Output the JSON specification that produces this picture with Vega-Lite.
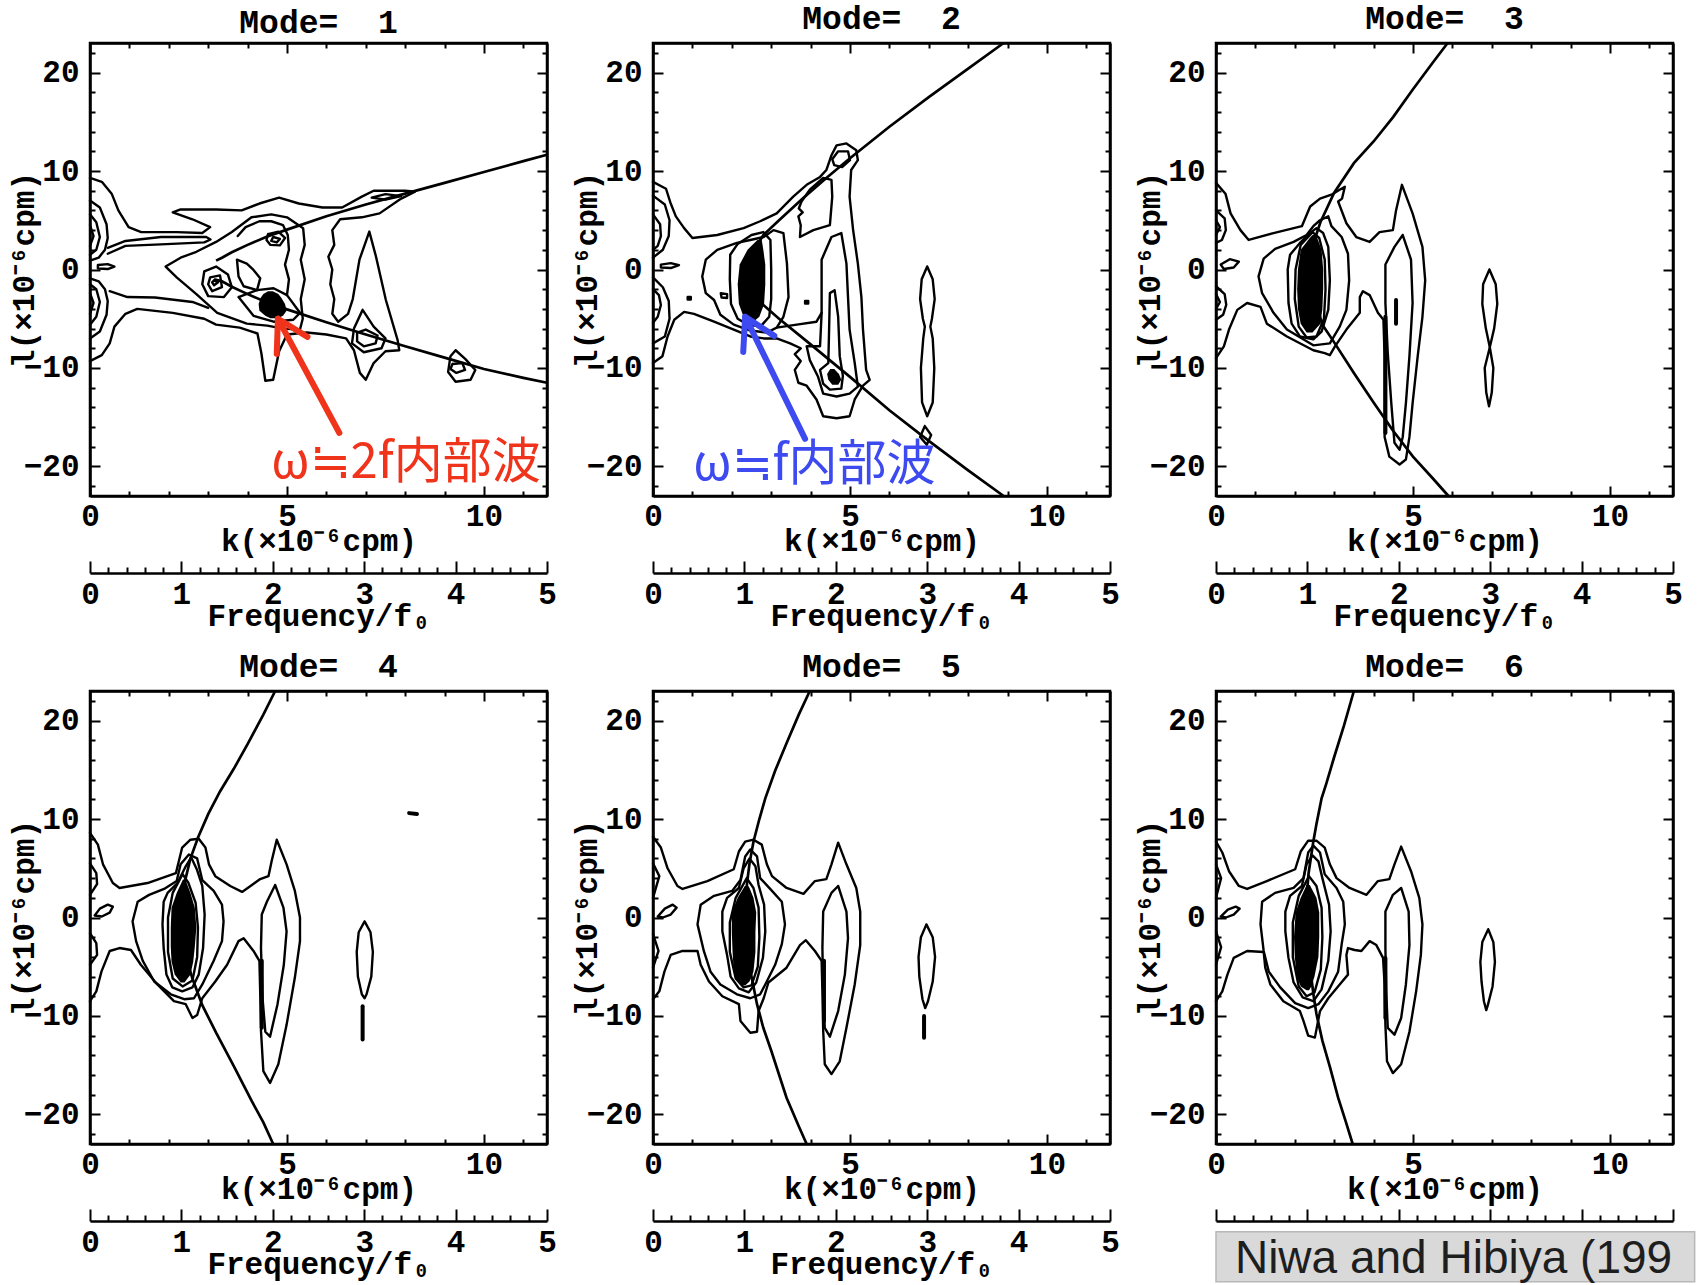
{
"$schema":"https://vega.github.io/schema/vega-lite/v6.json",
"padding":{"left":6,"top":1,"right":0,"bottom":0},
"background":"white",
"config":{
 "view":{"stroke":"black","strokeWidth":2.5},
 "axis":{"grid":false,"domainColor":"black","domainWidth":2.5,"tickColor":"black","tickWidth":2,"labelFont":"Liberation Mono","labelFontWeight":"bold","labelFontSize":31,"labelColor":"black","titleFont":"Liberation Mono","titleFontWeight":"bold","titleFontSize":31,"titleColor":"black","labelFlush":false,"labelOverlap":false},
 "title":{"font":"Liberation Mono","fontWeight":"bold","fontSize":33,"color":"black","baseline":"alphabetic","offset":2,"frame":"group"}
},
"datasets":{
"c1":[
{"g":"e","k":0,"l":9.3},{"g":"e","k":0.3,"l":8.9},{"g":"e","k":0.55,"l":7.7},{"g":"e","k":0.72,"l":6.0},{"g":"e","k":0.98,"l":4.3},{"g":"e","k":1.3,"l":3.8},{"g":"e","k":2.2,"l":3.8},{"g":"e","k":2.85,"l":3.7},{"g":"e","k":3.05,"l":4.3},{"g":"e","k":2.6,"l":5.1},{"g":"e","k":2.1,"l":5.8},{"g":"e","k":2.3,"l":6.1},{"g":"e","k":3.2,"l":6.1},{"g":"e","k":3.85,"l":6.0},{"g":"e","k":4.3,"l":6.7},{"g":"e","k":4.8,"l":7.3},{"g":"e","k":5.3,"l":6.7},{"g":"e","k":5.9,"l":6.3},{"g":"e","k":6.4,"l":6.3},{"g":"e","k":6.9,"l":7.4},{"g":"e","k":7.2,"l":8.0},{"g":"e","k":8.0,"l":8.0},{"g":"e","k":8.25,"l":7.9},{"g":"e","k":7.9,"l":7.2},{"g":"e","k":7.35,"l":5.7},{"g":"e","k":6.9,"l":5.3},{"g":"e","k":6.35,"l":5.1},{"g":"e","k":6.15,"l":4.0},{"g":"e","k":6.2,"l":2.5},{"g":"e","k":6.05,"l":1.3},{"g":"e","k":6.15,"l":0},{"g":"e","k":6.1,"l":-1.5},{"g":"e","k":6.2,"l":-3.0},{"g":"e","k":6.15,"l":-4.5},{"g":"e","k":6.3,"l":-5.3},{"g":"e","k":6.55,"l":-4.5},{"g":"e","k":6.67,"l":-3.0},{"g":"e","k":6.84,"l":1.0},{"g":"e","k":7.09,"l":3.85},{"g":"e","k":7.26,"l":1.3},{"g":"e","k":7.51,"l":-3.1},{"g":"e","k":7.81,"l":-7.2},{"g":"e","k":7.85,"l":-8.2},{"g":"e","k":7.5,"l":-8.3},{"g":"e","k":7.2,"l":-9.5},{"g":"e","k":7.0,"l":-11.2},{"g":"e","k":6.85,"l":-10.5},{"g":"e","k":6.7,"l":-8.2},{"g":"e","k":6.5,"l":-7.0},{"g":"e","k":6.0,"l":-6.6},{"g":"e","k":5.5,"l":-6.4},{"g":"e","k":5.0,"l":-6.6},{"g":"e","k":4.8,"l":-8.3},{"g":"e","k":4.65,"l":-11.2},{"g":"e","k":4.45,"l":-11.3},{"g":"e","k":4.35,"l":-8.5},{"g":"e","k":4.25,"l":-6.5},{"g":"e","k":3.8,"l":-5.9},{"g":"e","k":3.2,"l":-5.6},{"g":"e","k":2.9,"l":-5.0},{"g":"e","k":2.1,"l":-4.4},{"g":"e","k":1.2,"l":-4.0},{"g":"e","k":0.9,"l":-4.5},{"g":"e","k":0.62,"l":-5.8},{"g":"e","k":0.5,"l":-7.5},{"g":"e","k":0.3,"l":-8.7},{"g":"e","k":0,"l":-9.3},
{"g":"u1","k":0,"l":7.0},{"g":"u1","k":0.25,"l":6.3},{"g":"u1","k":0.42,"l":4.6},{"g":"u1","k":0.45,"l":3.2},{"g":"u1","k":0.38,"l":2.0},{"g":"u1","k":0.22,"l":1.2},{"g":"u1","k":0,"l":0.9},
{"g":"u2","k":0,"l":5.6},{"g":"u2","k":0.16,"l":4.8},{"g":"u2","k":0.25,"l":3.3},{"g":"u2","k":0.16,"l":2.0},{"g":"u2","k":0,"l":1.5},
{"g":"u3","k":0,"l":4.5},{"g":"u3","k":0.09,"l":3.4},{"g":"u3","k":0,"l":2.4},
{"g":"d1","k":0,"l":-0.9},{"g":"d1","k":0.22,"l":-1.2},{"g":"d1","k":0.38,"l":-2.0},{"g":"d1","k":0.45,"l":-3.2},{"g":"d1","k":0.42,"l":-4.6},{"g":"d1","k":0.25,"l":-6.3},{"g":"d1","k":0,"l":-7.0},
{"g":"d2","k":0,"l":-1.5},{"g":"d2","k":0.16,"l":-2.0},{"g":"d2","k":0.25,"l":-3.3},{"g":"d2","k":0.16,"l":-4.8},{"g":"d2","k":0,"l":-5.6},
{"g":"d3","k":0,"l":-2.4},{"g":"d3","k":0.09,"l":-3.4},{"g":"d3","k":0,"l":-4.5},
{"g":"m","k":0.2,"l":0.45},{"g":"m","k":0.45,"l":0.55},{"g":"m","k":0.62,"l":0.3},{"g":"m","k":0.45,"l":0.05},{"g":"m","k":0.2,"l":0.1},{"g":"m","k":0.2,"l":0.45},
{"g":"f","k":0.45,"l":2.2},{"g":"f","k":0.9,"l":2.9},{"g":"f","k":1.8,"l":3.3},{"g":"f","k":2.95,"l":3.3},{"g":"f","k":3.06,"l":3.05},{"g":"f","k":2.9,"l":2.75},{"g":"f","k":1.8,"l":2.55},{"g":"f","k":0.9,"l":2.4},{"g":"f","k":0.45,"l":1.6},
{"g":"lo","k":0.5,"l":-2.2},{"g":"lo","k":0.95,"l":-2.8},{"g":"lo","k":1.65,"l":-2.85},{"g":"lo","k":2.6,"l":-3.3},{"g":"lo","k":3.0,"l":-3.9},
{"g":"c2","k":1.92,"l":0.3},{"g":"c2","k":2.3,"l":1.2},{"g":"c2","k":2.7,"l":1.8},{"g":"c2","k":3.2,"l":2.8},{"g":"c2","k":3.6,"l":3.8},{"g":"c2","k":4.1,"l":5.3},{"g":"c2","k":4.6,"l":5.6},{"g":"c2","k":5.0,"l":5.3},{"g":"c2","k":5.41,"l":4.2},{"g":"c2","k":5.45,"l":2.5},{"g":"c2","k":5.35,"l":1.0},{"g":"c2","k":5.45,"l":-1.0},{"g":"c2","k":5.35,"l":-3.0},{"g":"c2","k":5.4,"l":-5.0},{"g":"c2","k":5.33,"l":-6.1},{"g":"c2","k":4.9,"l":-6.0},{"g":"c2","k":4.5,"l":-5.7},{"g":"c2","k":3.98,"l":-5.5},{"g":"c2","k":3.23,"l":-4.4},{"g":"c2","k":2.7,"l":-2.5},{"g":"c2","k":2.2,"l":-0.8},{"g":"c2","k":1.92,"l":0.3},
{"g":"c3","k":2.9,"l":-0.2},{"g":"c3","k":3.2,"l":0.3},{"g":"c3","k":3.5,"l":-0.5},{"g":"c3","k":3.6,"l":-1.8},{"g":"c3","k":3.4,"l":-2.8},{"g":"c3","k":3.0,"l":-2.7},{"g":"c3","k":2.85,"l":-1.5},{"g":"c3","k":2.9,"l":-0.2},
{"g":"c3b","k":3.05,"l":-0.8},{"g":"c3b","k":3.3,"l":-0.6},{"g":"c3b","k":3.35,"l":-1.8},{"g":"c3b","k":3.1,"l":-2.2},{"g":"c3b","k":3.0,"l":-1.5},{"g":"c3b","k":3.05,"l":-0.8},
{"g":"c3c","k":3.15,"l":-1.1},{"g":"c3c","k":3.25,"l":-1.3},{"g":"c3c","k":3.15,"l":-1.6},{"g":"c3c","k":3.1,"l":-1.3},{"g":"c3c","k":3.15,"l":-1.1},
{"g":"c4","k":4.52,"l":3.6},{"g":"c4","k":4.78,"l":3.85},{"g":"c4","k":4.95,"l":3.2},{"g":"c4","k":4.82,"l":2.45},{"g":"c4","k":4.58,"l":2.5},{"g":"c4","k":4.48,"l":3.0},{"g":"c4","k":4.52,"l":3.6},
{"g":"c4b","k":4.65,"l":3.3},{"g":"c4b","k":4.82,"l":3.1},{"g":"c4b","k":4.74,"l":2.75},{"g":"c4b","k":4.6,"l":2.9},{"g":"c4b","k":4.65,"l":3.3},
{"g":"c5","k":3.73,"l":1.0},{"g":"c5","k":3.98,"l":0.6},{"g":"c5","k":4.15,"l":-0.05},{"g":"c5","k":4.32,"l":-0.9},{"g":"c5","k":4.24,"l":-2.1},{"g":"c5","k":3.9,"l":-1.7},{"g":"c5","k":3.77,"l":-0.7},{"g":"c5","k":3.73,"l":1.0},
{"g":"c6","k":3.77,"l":-2.8},{"g":"c6","k":4.24,"l":-2.1},{"g":"c6","k":4.66,"l":-1.9},{"g":"c6","k":5.0,"l":-2.6},{"g":"c6","k":5.33,"l":-4.4},{"g":"c6","k":5.16,"l":-5.1},{"g":"c6","k":4.66,"l":-5.3},{"g":"c6","k":4.15,"l":-4.7},{"g":"c6","k":3.77,"l":-2.8},
{"g":"c7","k":5.0,"l":-2.6},{"g":"c7","k":5.05,"l":-1.0},{"g":"c7","k":4.95,"l":0.5},{"g":"c7","k":5.05,"l":2.0},{"g":"c7","k":5.02,"l":3.5},{"g":"c7","k":4.9,"l":4.5},{"g":"c7","k":4.6,"l":4.9},{"g":"c7","k":4.3,"l":4.9},{"g":"c7","k":3.95,"l":4.3},{"g":"c7","k":3.75,"l":3.4},
{"g":"tr2","k":6.92,"l":-4.1},{"g":"tr2","k":7.2,"l":-5.8},{"g":"tr2","k":7.5,"l":-7.0},{"g":"tr2","k":7.4,"l":-8.0},{"g":"tr2","k":6.95,"l":-8.4},{"g":"tr2","k":6.65,"l":-7.5},{"g":"tr2","k":6.7,"l":-6.0},{"g":"tr2","k":6.92,"l":-4.1},
{"g":"tr3","k":6.78,"l":-6.4},{"g":"tr3","k":7.0,"l":-6.1},{"g":"tr3","k":7.3,"l":-6.7},{"g":"tr3","k":7.25,"l":-7.5},{"g":"tr3","k":6.95,"l":-7.8},{"g":"tr3","k":6.78,"l":-7.3},{"g":"tr3","k":6.78,"l":-6.4},
{"g":"tl","k":7.15,"l":7.3},{"g":"tl","k":7.5,"l":7.65},{"g":"tl","k":7.9,"l":7.45},{"g":"tl","k":7.5,"l":7.1},{"g":"tl","k":7.15,"l":7.3},
{"g":"r1","k":9.28,"l":-8.2},{"g":"r1","k":9.53,"l":-9.1},{"g":"r1","k":9.78,"l":-10.2},{"g":"r1","k":9.66,"l":-11.2},{"g":"r1","k":9.28,"l":-11.4},{"g":"r1","k":9.09,"l":-10.4},{"g":"r1","k":9.15,"l":-8.8},{"g":"r1","k":9.28,"l":-8.2},
{"g":"r1b","k":9.2,"l":-9.6},{"g":"r1b","k":9.45,"l":-9.5},{"g":"r1b","k":9.52,"l":-10.2},{"g":"r1b","k":9.3,"l":-10.5},{"g":"r1b","k":9.15,"l":-10.1},{"g":"r1b","k":9.2,"l":-9.6}
],
"b1":[
{"g":"b","l":-2.2,"k1":4.52,"k2":4.64},{"g":"b","l":-2.5,"k1":4.4,"k2":4.78},{"g":"b","l":-2.9,"k1":4.33,"k2":4.86},{"g":"b","l":-3.5,"k1":4.28,"k2":4.95},{"g":"b","l":-4.2,"k1":4.3,"k2":4.99},{"g":"b","l":-4.7,"k1":4.45,"k2":4.9},{"g":"b","l":-4.95,"k1":4.58,"k2":4.76}
],
"d1":[
{"g":"up","k":3.2,"l":0.9},{"g":"up","k":3.35,"l":1.2},{"g":"up","k":3.6,"l":1.75},{"g":"up","k":4,"l":2.5},{"g":"up","k":4.5,"l":3.35},{"g":"up","k":5,"l":4.05},{"g":"up","k":6,"l":5.4},{"g":"up","k":7,"l":6.6},{"g":"up","k":8,"l":7.7},{"g":"up","k":9,"l":8.8},{"g":"up","k":10,"l":9.9},{"g":"up","k":11,"l":11.0},{"g":"up","k":11.6,"l":11.65},
{"g":"lo","k":3.15,"l":-1.0},{"g":"lo","k":3.35,"l":-1.2},{"g":"lo","k":3.6,"l":-1.75},{"g":"lo","k":4,"l":-2.5},{"g":"lo","k":4.5,"l":-3.35},{"g":"lo","k":5,"l":-4.05},{"g":"lo","k":6,"l":-5.35},{"g":"lo","k":7,"l":-6.6},{"g":"lo","k":8,"l":-7.8},{"g":"lo","k":9,"l":-8.95},{"g":"lo","k":10,"l":-10.1},{"g":"lo","k":11,"l":-11.0},{"g":"lo","k":11.6,"l":-11.5}
],
"c2":[
{"g":"e","k":0,"l":8.9},{"g":"e","k":0.33,"l":8.2},{"g":"e","k":0.45,"l":6.7},{"g":"e","k":0.58,"l":5.4},{"g":"e","k":0.79,"l":4.2},{"g":"e","k":1.0,"l":3.2},{"g":"e","k":1.63,"l":3.5},{"g":"e","k":2.3,"l":4.2},{"g":"e","k":2.72,"l":4.9},{"g":"e","k":3.14,"l":5.7},{"g":"e","k":3.56,"l":7.4},{"g":"e","k":3.9,"l":8.6},{"g":"e","k":4.24,"l":9.4},{"g":"e","k":4.4,"l":10.1},{"g":"e","k":4.53,"l":11.6},{"g":"e","k":4.66,"l":12.6},{"g":"e","k":4.91,"l":12.8},{"g":"e","k":5.16,"l":12.1},{"g":"e","k":5.2,"l":11.1},{"g":"e","k":5.03,"l":10.1},{"g":"e","k":4.99,"l":7.4},{"g":"e","k":5.08,"l":4.0},{"g":"e","k":5.2,"l":0.6},{"g":"e","k":5.29,"l":-2.8},{"g":"e","k":5.33,"l":-6.1},{"g":"e","k":5.41,"l":-10.2},{"g":"e","k":5.5,"l":-11.2},{"g":"e","k":5.33,"l":-11.8},{"g":"e","k":5.12,"l":-13.2},{"g":"e","k":4.99,"l":-14.9},{"g":"e","k":4.66,"l":-15.1},{"g":"e","k":4.32,"l":-14.9},{"g":"e","k":4.15,"l":-13.2},{"g":"e","k":3.9,"l":-11.8},{"g":"e","k":3.69,"l":-11.5},{"g":"e","k":3.6,"l":-10.2},{"g":"e","k":3.75,"l":-9.3},{"g":"e","k":3.6,"l":-8.6},{"g":"e","k":3.75,"l":-8.0},{"g":"e","k":3.48,"l":-7.5},{"g":"e","k":3.14,"l":-7.0},{"g":"e","k":2.81,"l":-7.0},{"g":"e","k":2.47,"l":-6.8},{"g":"e","k":2.05,"l":-6.1},{"g":"e","k":1.55,"l":-5.3},{"g":"e","k":1.04,"l":-4.5},{"g":"e","k":0.79,"l":-4.3},{"g":"e","k":0.54,"l":-5.1},{"g":"e","k":0.37,"l":-6.8},{"g":"e","k":0.24,"l":-8.8},{"g":"e","k":0,"l":-9.5},
{"g":"tl","k":4.55,"l":11.2},{"g":"tl","k":4.7,"l":12.0},{"g":"tl","k":4.95,"l":12.0},{"g":"tl","k":5.0,"l":11.1},{"g":"tl","k":4.8,"l":10.4},{"g":"tl","k":4.6,"l":10.6},{"g":"tl","k":4.55,"l":11.2},
{"g":"w","k":3.77,"l":6.9},{"g":"w","k":3.7,"l":6.2},{"g":"w","k":3.8,"l":5.8},{"g":"w","k":3.69,"l":5.4},{"g":"w","k":3.75,"l":4.5},{"g":"w","k":3.73,"l":3.3},{"g":"w","k":4.07,"l":4.0},{"g":"w","k":4.49,"l":4.5},{"g":"w","k":4.55,"l":7.4},{"g":"w","k":4.53,"l":9.1},{"g":"w","k":4.32,"l":9.3},{"g":"w","k":3.98,"l":8.1},{"g":"w","k":3.77,"l":6.9},
{"g":"c","k":1.25,"l":-0.7},{"g":"c","k":1.34,"l":1.0},{"g":"c","k":1.63,"l":2.0},{"g":"c","k":2.13,"l":2.7},{"g":"c","k":2.47,"l":3.0},{"g":"c","k":2.81,"l":3.3},{"g":"c","k":3.06,"l":4.0},{"g":"c","k":3.31,"l":3.7},{"g":"c","k":3.4,"l":0.6},{"g":"c","k":3.44,"l":-2.8},{"g":"c","k":3.31,"l":-4.8},{"g":"c","k":3.14,"l":-5.9},{"g":"c","k":2.89,"l":-6.4},{"g":"c","k":2.47,"l":-6.2},{"g":"c","k":2.05,"l":-5.6},{"g":"c","k":1.71,"l":-4.6},{"g":"c","k":1.55,"l":-3.1},{"g":"c","k":1.34,"l":-2.4},{"g":"c","k":1.25,"l":-0.7},
{"g":"rb","k":1.96,"l":1.5},{"g":"rb","k":2.15,"l":2.6},{"g":"rb","k":2.5,"l":3.5},{"g":"rb","k":2.8,"l":3.8},{"g":"rb","k":2.98,"l":3.0},{"g":"rb","k":3.0,"l":0},{"g":"rb","k":3.0,"l":-3.0},{"g":"rb","k":2.95,"l":-4.8},{"g":"rb","k":2.75,"l":-5.7},{"g":"rb","k":2.45,"l":-5.7},{"g":"rb","k":2.15,"l":-5.0},{"g":"rb","k":1.98,"l":-3.5},{"g":"rb","k":1.95,"l":-1.0},{"g":"rb","k":1.96,"l":1.5},
{"g":"se","k":1.72,"l":-2.4},{"g":"se","k":1.88,"l":-2.5},{"g":"se","k":1.88,"l":-2.9},{"g":"se","k":1.74,"l":-2.85},{"g":"se","k":1.72,"l":-2.4},
{"g":"dt1","k":0.88,"l":-2.8},{"g":"dt1","k":0.96,"l":-2.8},{"g":"dt1","k":0.96,"l":-3.05},{"g":"dt1","k":0.88,"l":-3.05},{"g":"dt1","k":0.88,"l":-2.8},
{"g":"dt2","k":3.86,"l":-3.2},{"g":"dt2","k":3.94,"l":-3.2},{"g":"dt2","k":3.94,"l":-3.45},{"g":"dt2","k":3.86,"l":-3.45},{"g":"dt2","k":3.86,"l":-3.2},
{"g":"hl","k":3.14,"l":-5.9},{"g":"hl","k":3.65,"l":-5.6},{"g":"hl","k":4.15,"l":-5.3},{"g":"hl","k":4.28,"l":-4.4},
{"g":"m","k":4.28,"l":1.0},{"g":"m","k":4.53,"l":3.3},{"g":"m","k":4.78,"l":3.7},{"g":"m","k":4.91,"l":0.6},{"g":"m","k":4.95,"l":-2.8},{"g":"m","k":4.99,"l":-6.1},{"g":"m","k":5.12,"l":-9.5},{"g":"m","k":5.2,"l":-11.9},{"g":"m","k":4.99,"l":-12.6},{"g":"m","k":4.66,"l":-12.9},{"g":"m","k":4.32,"l":-12.6},{"g":"m","k":4.19,"l":-10.9},{"g":"m","k":3.98,"l":-9.2},{"g":"m","k":3.9,"l":-7.8},{"g":"m","k":4.24,"l":-7.8},{"g":"m","k":4.28,"l":-4.4},{"g":"m","k":4.28,"l":-1.1},{"g":"m","k":4.28,"l":1.0},
{"g":"n","k":4.49,"l":-2.4},{"g":"n","k":4.61,"l":-2.1},{"g":"n","k":4.7,"l":-4.8},{"g":"n","k":4.74,"l":-8.8},{"g":"n","k":4.82,"l":-10.8},{"g":"n","k":4.78,"l":-12.1},{"g":"n","k":4.49,"l":-12.2},{"g":"n","k":4.32,"l":-11.6},{"g":"n","k":4.24,"l":-10.2},{"g":"n","k":4.45,"l":-9.5},{"g":"n","k":4.47,"l":-6.1},{"g":"n","k":4.49,"l":-2.4},
{"g":"u1","k":0,"l":7.5},{"g":"u1","k":0.3,"l":6.6},{"g":"u1","k":0.42,"l":5.0},{"g":"u1","k":0.4,"l":3.4},{"g":"u1","k":0.25,"l":2.0},{"g":"u1","k":0,"l":1.2},
{"g":"u2","k":0,"l":5.6},{"g":"u2","k":0.18,"l":4.6},{"g":"u2","k":0.2,"l":3.4},{"g":"u2","k":0.12,"l":2.4},{"g":"u2","k":0,"l":2.0},
{"g":"d1","k":0,"l":-0.8},{"g":"d1","k":0.25,"l":-1.8},{"g":"d1","k":0.4,"l":-3.2},{"g":"d1","k":0.42,"l":-5.0},{"g":"d1","k":0.3,"l":-6.8},{"g":"d1","k":0,"l":-7.5},
{"g":"d2","k":0,"l":-2.0},{"g":"d2","k":0.15,"l":-2.6},{"g":"d2","k":0.2,"l":-3.6},{"g":"d2","k":0.12,"l":-4.8},{"g":"d2","k":0,"l":-5.4},
{"g":"me","k":0.2,"l":0.5},{"g":"me","k":0.45,"l":0.65},{"g":"me","k":0.66,"l":0.45},{"g":"me","k":0.45,"l":0.15},{"g":"me","k":0.2,"l":0.2},{"g":"me","k":0.2,"l":0.5},
{"g":"fr","k":6.96,"l":0.3},{"g":"fr","k":7.1,"l":-1},{"g":"fr","k":7.15,"l":-3},{"g":"fr","k":7.08,"l":-5},{"g":"fr","k":7.04,"l":-5.8},{"g":"fr","k":7.1,"l":-7},{"g":"fr","k":7.14,"l":-10},{"g":"fr","k":7.1,"l":-13.5},{"g":"fr","k":6.96,"l":-14.9},{"g":"fr","k":6.83,"l":-13.5},{"g":"fr","k":6.8,"l":-10},{"g":"fr","k":6.86,"l":-7},{"g":"fr","k":6.9,"l":-5.8},{"g":"fr","k":6.85,"l":-5},{"g":"fr","k":6.78,"l":-3},{"g":"fr","k":6.82,"l":-1},{"g":"fr","k":6.96,"l":0.3},
{"g":"fl","k":6.9,"l":-15.9},{"g":"fl","k":7.06,"l":-16.8},{"g":"fl","k":6.95,"l":-17.8},{"g":"fl","k":6.78,"l":-17.0},{"g":"fl","k":6.9,"l":-15.9}
],
"b2":[
{"g":"b","l":3.0,"k1":2.65,"k2":2.76},{"g":"b","l":2.0,"k1":2.4,"k2":2.8},{"g":"b","l":0.5,"k1":2.2,"k2":2.85},{"g":"b","l":-1.5,"k1":2.15,"k2":2.85},{"g":"b","l":-3.5,"k1":2.18,"k2":2.82},{"g":"b","l":-4.8,"k1":2.3,"k2":2.7},{"g":"b","l":-5.3,"k1":2.45,"k2":2.55},
{"g":"b2","l":-10.1,"k1":4.5,"k2":4.6},{"g":"b2","l":-10.6,"k1":4.42,"k2":4.72},{"g":"b2","l":-11.2,"k1":4.45,"k2":4.78},{"g":"b2","l":-11.7,"k1":4.55,"k2":4.7}
],
"d2":[
{"g":"c","k":8.9,"l":23},{"g":"c","k":8,"l":20.4},{"g":"c","k":7,"l":17.5},{"g":"c","k":6,"l":14.5},{"g":"c","k":5,"l":11.3},{"g":"c","k":4.4,"l":9.3},{"g":"c","k":3.8,"l":7.2},{"g":"c","k":3.2,"l":5.0},{"g":"c","k":2.8,"l":3.5},{"g":"c","k":2.6,"l":2.2},{"g":"c","k":2.45,"l":0},{"g":"c","k":2.6,"l":-2.2},{"g":"c","k":2.8,"l":-3.6},{"g":"c","k":3.2,"l":-5.0},{"g":"c","k":4,"l":-7.6},{"g":"c","k":5,"l":-10.9},{"g":"c","k":6,"l":-14.3},{"g":"c","k":7,"l":-17.4},{"g":"c","k":8,"l":-20.4},{"g":"c","k":8.9,"l":-23}
],
"c3":[
{"g":"e","k":0,"l":8.8},{"g":"e","k":0.24,"l":7.7},{"g":"e","k":0.37,"l":5.7},{"g":"e","k":0.62,"l":4.0},{"g":"e","k":0.83,"l":3.0},{"g":"e","k":1.46,"l":3.7},{"g":"e","k":2.18,"l":4.4},{"g":"e","k":2.39,"l":6.4},{"g":"e","k":2.64,"l":7.2},{"g":"e","k":2.93,"l":7.6},{"g":"e","k":3.14,"l":8.1},{"g":"e","k":3.27,"l":8.4},{"g":"e","k":3.2,"l":7.2},{"g":"e","k":3.1,"l":6.9},{"g":"e","k":3.31,"l":4.7},{"g":"e","k":3.56,"l":3.3},{"g":"e","k":3.9,"l":2.8},{"g":"e","k":4.15,"l":3.8},{"g":"e","k":4.49,"l":4.0},{"g":"e","k":4.57,"l":6.0},{"g":"e","k":4.72,"l":8.6},{"g":"e","k":4.99,"l":5.7},{"g":"e","k":5.24,"l":2.3},{"g":"e","k":5.31,"l":-1.1},{"g":"e","k":5.24,"l":-4.8},{"g":"e","k":5.12,"l":-8.8},{"g":"e","k":4.99,"l":-13.6},{"g":"e","k":4.91,"l":-17.0},{"g":"e","k":4.82,"l":-19.3},{"g":"e","k":4.66,"l":-19.8},{"g":"e","k":4.4,"l":-19.0},{"g":"e","k":4.28,"l":-17.0},{"g":"e","k":4.28,"l":-13.6},{"g":"e","k":4.28,"l":-8.8},{"g":"e","k":4.25,"l":-5.1},{"g":"e","k":4.11,"l":-4.4},{"g":"e","k":3.9,"l":-2.6},{"g":"e","k":3.73,"l":-2.2},{"g":"e","k":3.65,"l":-2.8},{"g":"e","k":3.65,"l":-4.4},{"g":"e","k":3.31,"l":-6.1},{"g":"e","k":3.02,"l":-7.8},{"g":"e","k":2.89,"l":-8.7},{"g":"e","k":2.76,"l":-8.5},{"g":"e","k":2.47,"l":-8.2},{"g":"e","k":1.8,"l":-6.8},{"g":"e","k":1.29,"l":-5.5},{"g":"e","k":1.13,"l":-3.8},{"g":"e","k":0.79,"l":-3.4},{"g":"e","k":0.54,"l":-4.1},{"g":"e","k":0.33,"l":-6.1},{"g":"e","k":0.2,"l":-7.8},{"g":"e","k":0,"l":-9.0},
{"g":"c","k":1.08,"l":-0.7},{"g":"c","k":1.21,"l":1.1},{"g":"c","k":1.5,"l":2.1},{"g":"c","k":1.97,"l":2.8},{"g":"c","k":2.3,"l":3.5},{"g":"c","k":2.47,"l":4.4},{"g":"c","k":2.64,"l":5.0},{"g":"c","k":2.85,"l":5.4},{"g":"c","k":2.93,"l":4.4},{"g":"c","k":3.19,"l":3.3},{"g":"c","k":3.35,"l":1.6},{"g":"c","k":3.38,"l":-1.1},{"g":"c","k":3.31,"l":-4.1},{"g":"c","k":3.14,"l":-5.8},{"g":"c","k":2.89,"l":-7.5},{"g":"c","k":2.47,"l":-7.7},{"g":"c","k":1.8,"l":-6.1},{"g":"c","k":1.46,"l":-4.4},{"g":"c","k":1.17,"l":-2.4},{"g":"c","k":1.08,"l":-0.7},
{"g":"rb","k":1.82,"l":0},{"g":"rb","k":1.88,"l":1.5},{"g":"rb","k":2.13,"l":2.7},{"g":"rb","k":2.39,"l":3.7},{"g":"rb","k":2.55,"l":4.2},{"g":"rb","k":2.72,"l":3.7},{"g":"rb","k":2.85,"l":2.3},{"g":"rb","k":2.89,"l":-1.1},{"g":"rb","k":2.85,"l":-4.1},{"g":"rb","k":2.68,"l":-6.3},{"g":"rb","k":2.47,"l":-7.1},{"g":"rb","k":2.13,"l":-6.8},{"g":"rb","k":1.92,"l":-5.5},{"g":"rb","k":1.84,"l":-3.4},{"g":"rb","k":1.82,"l":0},
{"g":"ra","k":2.45,"l":3.8},{"g":"ra","k":2.62,"l":3.2},{"g":"ra","k":2.76,"l":1},{"g":"ra","k":2.78,"l":-2},{"g":"ra","k":2.74,"l":-5},{"g":"ra","k":2.55,"l":-6.8},{"g":"ra","k":2.3,"l":-6.9},{"g":"ra","k":2.1,"l":-5.8},{"g":"ra","k":2.0,"l":-3},{"g":"ra","k":2.02,"l":0},{"g":"ra","k":2.15,"l":2.5},{"g":"ra","k":2.45,"l":3.8},
{"g":"li","k":4.74,"l":3.5},{"g":"li","k":4.95,"l":1.0},{"g":"li","k":4.99,"l":-3.4},{"g":"li","k":4.91,"l":-8.8},{"g":"li","k":4.82,"l":-13.6},{"g":"li","k":4.74,"l":-17.0},{"g":"li","k":4.66,"l":-18.3},{"g":"li","k":4.53,"l":-17.6},{"g":"li","k":4.45,"l":-13.6},{"g":"li","k":4.36,"l":-8.5},{"g":"li","k":4.3,"l":-3.4},{"g":"li","k":4.3,"l":0.5},{"g":"li","k":4.53,"l":2.3},{"g":"li","k":4.74,"l":3.5},
{"g":"f8a","k":6.94,"l":0},{"g":"f8a","k":7.1,"l":-1.5},{"g":"f8a","k":7.14,"l":-3.5},{"g":"f8a","k":7.06,"l":-6},{"g":"f8a","k":6.95,"l":-7.9},{"g":"f8a","k":6.85,"l":-6},{"g":"f8a","k":6.76,"l":-3.5},{"g":"f8a","k":6.78,"l":-1.5},{"g":"f8a","k":6.94,"l":0},
{"g":"f8b","k":6.95,"l":-7.9},{"g":"f8b","k":7.04,"l":-10},{"g":"f8b","k":7.0,"l":-12.5},{"g":"f8b","k":6.93,"l":-13.9},{"g":"f8b","k":6.86,"l":-12.5},{"g":"f8b","k":6.82,"l":-10},{"g":"f8b","k":6.95,"l":-7.9},
{"g":"me","k":0.12,"l":0.5},{"g":"me","k":0.35,"l":1.05},{"g":"me","k":0.58,"l":0.8},{"g":"me","k":0.45,"l":0.2},{"g":"me","k":0.2,"l":0.05},{"g":"me","k":0.12,"l":0.5},
{"g":"u1","k":0,"l":6.0},{"g":"u1","k":0.22,"l":5.2},{"g":"u1","k":0.25,"l":4.0},{"g":"u1","k":0.15,"l":3.0},{"g":"u1","k":0,"l":2.7},
{"g":"u1b","k":0,"l":5.0},{"g":"u1b","k":0.1,"l":4.3},{"g":"u1b","k":0,"l":3.5},
{"g":"d1","k":0,"l":-1.7},{"g":"d1","k":0.22,"l":-2.5},{"g":"d1","k":0.26,"l":-3.6},{"g":"d1","k":0.18,"l":-4.6},{"g":"d1","k":0,"l":-5.1},
{"g":"d1b","k":0,"l":-2.5},{"g":"d1b","k":0.1,"l":-3.3},{"g":"d1b","k":0,"l":-4.0}
],
"b3":[
{"g":"b","l":3.5,"k1":2.45,"k2":2.52},{"g":"b","l":3.3,"k1":2.4,"k2":2.56},{"g":"b","l":2.0,"k1":2.15,"k2":2.68},{"g":"b","l":0,"k1":2.08,"k2":2.72},{"g":"b","l":-2,"k1":2.06,"k2":2.72},{"g":"b","l":-4,"k1":2.08,"k2":2.7},{"g":"b","l":-5.5,"k1":2.15,"k2":2.65},{"g":"b","l":-6.4,"k1":2.3,"k2":2.45}
],
"d3":[
{"g":"c","k":5.88,"l":23},{"g":"c","k":5.5,"l":21.0},{"g":"c","k":5.0,"l":18.3},{"g":"c","k":4.5,"l":15.5},{"g":"c","k":4.0,"l":13.0},{"g":"c","k":3.5,"l":10.8},{"g":"c","k":3.0,"l":7.8},{"g":"c","k":2.65,"l":4.8},{"g":"c","k":2.5,"l":3.0},{"g":"c","k":2.4,"l":0},{"g":"c","k":2.5,"l":-3.0},{"g":"c","k":2.7,"l":-5.6},{"g":"c","k":3.0,"l":-7.4},{"g":"c","k":3.5,"l":-10.5},{"g":"c","k":4.0,"l":-13.5},{"g":"c","k":4.5,"l":-16.4},{"g":"c","k":5.0,"l":-19.0},{"g":"c","k":5.5,"l":-21.2},{"g":"c","k":5.9,"l":-23}
],
"t3":[
{"g":"a","k":4.3,"l":-4.8},{"g":"a","k":4.3,"l":-16.6},{"g":"b","k":4.57,"l":-3.1},{"g":"b","k":4.57,"l":-5.5}
],
"c4":[
{"g":"e","k":0,"l":8.6},{"g":"e","k":0.2,"l":7.4},{"g":"e","k":0.33,"l":5.4},{"g":"e","k":0.58,"l":3.5},{"g":"e","k":0.75,"l":3.0},{"g":"e","k":1.46,"l":3.5},{"g":"e","k":2.18,"l":4.5},{"g":"e","k":2.34,"l":7.1},{"g":"e","k":2.55,"l":7.9},{"g":"e","k":2.76,"l":8.0},{"g":"e","k":2.93,"l":7.1},{"g":"e","k":3.02,"l":5.4},{"g":"e","k":3.18,"l":4.2},{"g":"e","k":3.56,"l":3.2},{"g":"e","k":3.86,"l":2.6},{"g":"e","k":4.11,"l":3.3},{"g":"e","k":4.32,"l":3.9},{"g":"e","k":4.53,"l":4.2},{"g":"e","k":4.61,"l":5.7},{"g":"e","k":4.74,"l":7.9},{"g":"e","k":4.99,"l":5.4},{"g":"e","k":5.2,"l":2.7},{"g":"e","k":5.33,"l":0},{"g":"e","k":5.33,"l":-2.4},{"g":"e","k":5.2,"l":-6.1},{"g":"e","k":4.99,"l":-10.9},{"g":"e","k":4.78,"l":-14.9},{"g":"e","k":4.57,"l":-16.8},{"g":"e","k":4.4,"l":-15.6},{"g":"e","k":4.34,"l":-11.5},{"g":"e","k":4.32,"l":-7.5},{"g":"e","k":4.3,"l":-4.4},{"g":"e","k":4.15,"l":-3.4},{"g":"e","k":3.9,"l":-2.1},{"g":"e","k":3.77,"l":-2.4},{"g":"e","k":3.48,"l":-4.8},{"g":"e","k":3.18,"l":-6.5},{"g":"e","k":2.85,"l":-8.2},{"g":"e","k":2.72,"l":-9.9},{"g":"e","k":2.6,"l":-10.2},{"g":"e","k":2.43,"l":-8.8},{"g":"e","k":2.13,"l":-8.5},{"g":"e","k":1.71,"l":-6.8},{"g":"e","k":1.29,"l":-4.8},{"g":"e","k":1.04,"l":-3.3},{"g":"e","k":0.75,"l":-3.1},{"g":"e","k":0.5,"l":-3.4},{"g":"e","k":0.29,"l":-5.5},{"g":"e","k":0.16,"l":-7.5},{"g":"e","k":0,"l":-8.5},
{"g":"c","k":1.08,"l":-0.4},{"g":"c","k":1.21,"l":1.6},{"g":"c","k":1.5,"l":2.3},{"g":"c","k":1.88,"l":2.9},{"g":"c","k":2.2,"l":3.7},{"g":"c","k":2.3,"l":5.4},{"g":"c","k":2.51,"l":6.4},{"g":"c","k":2.72,"l":6.0},{"g":"c","k":2.85,"l":3.8},{"g":"c","k":3.14,"l":2.7},{"g":"c","k":3.35,"l":1.3},{"g":"c","k":3.39,"l":-0.4},{"g":"c","k":3.35,"l":-2.4},{"g":"c","k":3.14,"l":-4.4},{"g":"c","k":2.85,"l":-6.8},{"g":"c","k":2.64,"l":-8.2},{"g":"c","k":2.39,"l":-8.3},{"g":"c","k":2.05,"l":-7.8},{"g":"c","k":1.63,"l":-6.5},{"g":"c","k":1.34,"l":-4.4},{"g":"c","k":1.17,"l":-2.4},{"g":"c","k":1.08,"l":-0.4},
{"g":"rb","k":1.87,"l":1.6},{"g":"rb","k":1.97,"l":2.5},{"g":"rb","k":2.22,"l":3.5},{"g":"rb","k":2.43,"l":5.2},{"g":"rb","k":2.57,"l":6.1},{"g":"rb","k":2.71,"l":4.9},{"g":"rb","k":2.85,"l":3.2},{"g":"rb","k":2.91,"l":0.3},{"g":"rb","k":2.87,"l":-3.1},{"g":"rb","k":2.76,"l":-5.8},{"g":"rb","k":2.6,"l":-7.1},{"g":"rb","k":2.34,"l":-7.5},{"g":"rb","k":2.09,"l":-7.1},{"g":"rb","k":1.94,"l":-5.8},{"g":"rb","k":1.87,"l":-3.1},{"g":"rb","k":1.84,"l":-0.7},{"g":"rb","k":1.87,"l":1.6},
{"g":"ra","k":2.35,"l":4.4},{"g":"ra","k":2.5,"l":3.5},{"g":"ra","k":2.68,"l":1.5},{"g":"ra","k":2.74,"l":-1},{"g":"ra","k":2.72,"l":-4},{"g":"ra","k":2.6,"l":-6.4},{"g":"ra","k":2.35,"l":-7.0},{"g":"ra","k":2.1,"l":-6.2},{"g":"ra","k":1.98,"l":-3.5},{"g":"ra","k":1.98,"l":0},{"g":"ra","k":2.1,"l":2.5},{"g":"ra","k":2.35,"l":4.4},
{"g":"li","k":4.7,"l":3.3},{"g":"li","k":4.91,"l":1.0},{"g":"li","k":4.99,"l":-1.4},{"g":"li","k":4.92,"l":-4.8},{"g":"li","k":4.76,"l":-8.8},{"g":"li","k":4.57,"l":-12.1},{"g":"li","k":4.45,"l":-11.6},{"g":"li","k":4.38,"l":-8.2},{"g":"li","k":4.34,"l":-3.1},{"g":"li","k":4.36,"l":0.3},{"g":"li","k":4.49,"l":1.6},{"g":"li","k":4.7,"l":3.3},
{"g":"fr","k":6.97,"l":-0.4},{"g":"fr","k":7.12,"l":-1.5},{"g":"fr","k":7.18,"l":-3.5},{"g":"fr","k":7.14,"l":-6},{"g":"fr","k":7.02,"l":-7.8},{"g":"fr","k":6.97,"l":-8.2},{"g":"fr","k":6.9,"l":-7.8},{"g":"fr","k":6.8,"l":-6},{"g":"fr","k":6.77,"l":-3.5},{"g":"fr","k":6.82,"l":-1.5},{"g":"fr","k":6.97,"l":-0.4},
{"g":"me","k":0.12,"l":0.2},{"g":"me","k":0.25,"l":0.9},{"g":"me","k":0.45,"l":1.3},{"g":"me","k":0.58,"l":1.1},{"g":"me","k":0.5,"l":0.5},{"g":"me","k":0.3,"l":0.1},{"g":"me","k":0.12,"l":0.2},
{"g":"u1","k":0,"l":5.5},{"g":"u1","k":0.16,"l":4.5},{"g":"u1","k":0.18,"l":3.4},{"g":"u1","k":0,"l":2.3},
{"g":"d1","k":0,"l":-1.6},{"g":"d1","k":0.16,"l":-2.6},{"g":"d1","k":0.18,"l":-3.8},{"g":"d1","k":0,"l":-4.8}
],
"b4":[
{"g":"b","l":3.85,"k1":2.36,"k2":2.42},{"g":"b","l":2.5,"k1":2.2,"k2":2.55},{"g":"b","l":1.0,"k1":2.07,"k2":2.66},{"g":"b","l":-1.0,"k1":2.05,"k2":2.7},{"g":"b","l":-3.0,"k1":2.05,"k2":2.66},{"g":"b","l":-4.5,"k1":2.07,"k2":2.62},{"g":"b","l":-5.8,"k1":2.15,"k2":2.55},{"g":"b","l":-6.6,"k1":2.3,"k2":2.4}
],
"d4":[
{"g":"c","k":4.7,"l":23},{"g":"c","k":4.4,"l":20.6},{"g":"c","k":4.0,"l":17.6},{"g":"c","k":3.65,"l":15.1},{"g":"c","k":3.3,"l":12.8},{"g":"c","k":3.0,"l":10.5},{"g":"c","k":2.75,"l":8.2},{"g":"c","k":2.55,"l":6.0},{"g":"c","k":2.4,"l":3.5},{"g":"c","k":2.3,"l":0},{"g":"c","k":2.4,"l":-3.5},{"g":"c","k":2.6,"l":-6.2},{"g":"c","k":2.85,"l":-8.9},{"g":"c","k":3.2,"l":-11.7},{"g":"c","k":3.65,"l":-15.1},{"g":"c","k":4.1,"l":-18.6},{"g":"c","k":4.4,"l":-20.8},{"g":"c","k":4.65,"l":-23}
],
"t4":[
{"g":"a","k":4.36,"l":-4.4},{"g":"a","k":4.36,"l":-11.2},{"g":"b","k":6.92,"l":-9.0},{"g":"b","k":6.92,"l":-12.4},{"g":"c","k":8.1,"l":10.6},{"g":"c","k":8.3,"l":10.5}
],
"c5":[
{"g":"e","k":0,"l":8.2},{"g":"e","k":0.2,"l":7.1},{"g":"e","k":0.37,"l":5.0},{"g":"e","k":0.62,"l":3.2},{"g":"e","k":0.75,"l":2.9},{"g":"e","k":1.38,"l":3.7},{"g":"e","k":2.05,"l":4.9},{"g":"e","k":2.18,"l":6.7},{"g":"e","k":2.34,"l":7.7},{"g":"e","k":2.55,"l":7.9},{"g":"e","k":2.76,"l":7.4},{"g":"e","k":2.89,"l":5.4},{"g":"e","k":3.02,"l":4.2},{"g":"e","k":3.39,"l":3.0},{"g":"e","k":3.82,"l":2.4},{"g":"e","k":4.11,"l":3.7},{"g":"e","k":4.4,"l":3.9},{"g":"e","k":4.53,"l":5.4},{"g":"e","k":4.7,"l":7.6},{"g":"e","k":4.91,"l":5.4},{"g":"e","k":5.16,"l":3.0},{"g":"e","k":5.26,"l":0.6},{"g":"e","k":5.26,"l":-2.8},{"g":"e","k":5.12,"l":-6.8},{"g":"e","k":4.91,"l":-11.2},{"g":"e","k":4.74,"l":-14.6},{"g":"e","k":4.53,"l":-15.9},{"g":"e","k":4.36,"l":-14.9},{"g":"e","k":4.32,"l":-11.5},{"g":"e","k":4.3,"l":-7.5},{"g":"e","k":4.28,"l":-4.4},{"g":"e","k":4.11,"l":-3.4},{"g":"e","k":3.88,"l":-2.3},{"g":"e","k":3.73,"l":-2.8},{"g":"e","k":3.39,"l":-5.1},{"g":"e","k":2.93,"l":-6.6},{"g":"e","k":2.81,"l":-8.2},{"g":"e","k":2.68,"l":-9.5},{"g":"e","k":2.64,"l":-11.6},{"g":"e","k":2.47,"l":-11.7},{"g":"e","k":2.22,"l":-10.5},{"g":"e","k":2.18,"l":-8.8},{"g":"e","k":1.76,"l":-8.0},{"g":"e","k":1.42,"l":-6.5},{"g":"e","k":1.21,"l":-4.8},{"g":"e","k":1.13,"l":-3.4},{"g":"e","k":0.75,"l":-3.4},{"g":"e","k":0.45,"l":-3.8},{"g":"e","k":0.29,"l":-5.5},{"g":"e","k":0.16,"l":-7.5},{"g":"e","k":0,"l":-8.3},
{"g":"c","k":1.13,"l":-0.7},{"g":"c","k":1.21,"l":1.3},{"g":"c","k":1.55,"l":2.2},{"g":"c","k":2.01,"l":2.7},{"g":"c","k":2.22,"l":3.8},{"g":"c","k":2.34,"l":6.2},{"g":"c","k":2.47,"l":6.9},{"g":"c","k":2.64,"l":6.2},{"g":"c","k":2.72,"l":4.0},{"g":"c","k":3.02,"l":2.7},{"g":"c","k":3.27,"l":1.6},{"g":"c","k":3.35,"l":-0.7},{"g":"c","k":3.27,"l":-2.7},{"g":"c","k":3.1,"l":-4.8},{"g":"c","k":2.85,"l":-6.8},{"g":"c","k":2.72,"l":-7.8},{"g":"c","k":2.47,"l":-8.2},{"g":"c","k":2.13,"l":-7.8},{"g":"c","k":1.71,"l":-6.8},{"g":"c","k":1.46,"l":-5.5},{"g":"c","k":1.29,"l":-3.4},{"g":"c","k":1.13,"l":-0.7},
{"g":"rb","k":1.76,"l":0.6},{"g":"rb","k":1.88,"l":2.0},{"g":"rb","k":2.18,"l":3.0},{"g":"rb","k":2.3,"l":5.0},{"g":"rb","k":2.45,"l":6.0},{"g":"rb","k":2.6,"l":5.2},{"g":"rb","k":2.68,"l":3.3},{"g":"rb","k":2.82,"l":1.3},{"g":"rb","k":2.85,"l":-1.4},{"g":"rb","k":2.79,"l":-4.1},{"g":"rb","k":2.62,"l":-6.6},{"g":"rb","k":2.43,"l":-7.6},{"g":"rb","k":2.18,"l":-7.2},{"g":"rb","k":1.97,"l":-6.0},{"g":"rb","k":1.88,"l":-3.8},{"g":"rb","k":1.76,"l":-1.4},{"g":"rb","k":1.76,"l":0.6},
{"g":"ra","k":2.38,"l":4.0},{"g":"ra","k":2.55,"l":3.0},{"g":"ra","k":2.68,"l":1.0},{"g":"ra","k":2.7,"l":-2},{"g":"ra","k":2.66,"l":-5},{"g":"ra","k":2.5,"l":-6.9},{"g":"ra","k":2.3,"l":-7.1},{"g":"ra","k":2.1,"l":-6.2},{"g":"ra","k":1.95,"l":-3.5},{"g":"ra","k":1.95,"l":-0.5},{"g":"ra","k":2.1,"l":2.0},{"g":"ra","k":2.38,"l":4.0},
{"g":"li","k":4.7,"l":3.2},{"g":"li","k":4.91,"l":0.6},{"g":"li","k":4.95,"l":-2.1},{"g":"li","k":4.87,"l":-5.8},{"g":"li","k":4.7,"l":-9.5},{"g":"li","k":4.49,"l":-12.1},{"g":"li","k":4.36,"l":-11.2},{"g":"li","k":4.32,"l":-7.5},{"g":"li","k":4.3,"l":-3.1},{"g":"li","k":4.32,"l":0.6},{"g":"li","k":4.53,"l":2.5},{"g":"li","k":4.7,"l":3.2},
{"g":"fr","k":6.94,"l":-0.7},{"g":"fr","k":7.1,"l":-2},{"g":"fr","k":7.16,"l":-4},{"g":"fr","k":7.1,"l":-6.5},{"g":"fr","k":6.98,"l":-8.5},{"g":"fr","k":6.91,"l":-9.2},{"g":"fr","k":6.84,"l":-8.3},{"g":"fr","k":6.76,"l":-6},{"g":"fr","k":6.74,"l":-4},{"g":"fr","k":6.8,"l":-2},{"g":"fr","k":6.94,"l":-0.7},
{"g":"me","k":0.12,"l":0.1},{"g":"me","k":0.3,"l":0.9},{"g":"me","k":0.5,"l":1.3},{"g":"me","k":0.6,"l":1.0},{"g":"me","k":0.45,"l":0.3},{"g":"me","k":0.25,"l":0.0},{"g":"me","k":0.12,"l":0.1},
{"g":"u1","k":0,"l":5.5},{"g":"u1","k":0.16,"l":4.2},{"g":"u1","k":0,"l":2.0},
{"g":"d1","k":0,"l":-1.7},{"g":"d1","k":0.14,"l":-3.4},{"g":"d1","k":0,"l":-5.1}
],
"b5":[
{"g":"b","l":3.2,"k1":2.33,"k2":2.42},{"g":"b","l":3.0,"k1":2.3,"k2":2.45},{"g":"b","l":2.0,"k1":2.15,"k2":2.55},{"g":"b","l":0.5,"k1":2.0,"k2":2.62},{"g":"b","l":-1.5,"k1":2.0,"k2":2.6},{"g":"b","l":-3.5,"k1":2.02,"k2":2.6},{"g":"b","l":-5.5,"k1":2.05,"k2":2.55},{"g":"b","l":-6.5,"k1":2.15,"k2":2.45},{"g":"b","l":-6.9,"k1":2.28,"k2":2.34}
],
"d5":[
{"g":"c","k":3.98,"l":23},{"g":"c","k":3.7,"l":20.6},{"g":"c","k":3.4,"l":17.8},{"g":"c","k":3.1,"l":14.9},{"g":"c","k":2.85,"l":12.1},{"g":"c","k":2.7,"l":10.0},{"g":"c","k":2.55,"l":7.7},{"g":"c","k":2.45,"l":5.5},{"g":"c","k":2.39,"l":3.6},{"g":"c","k":2.3,"l":0},{"g":"c","k":2.39,"l":-3.6},{"g":"c","k":2.5,"l":-6.0},{"g":"c","k":2.64,"l":-8.8},{"g":"c","k":2.8,"l":-11.2},{"g":"c","k":3.0,"l":-13.5},{"g":"c","k":3.39,"l":-18.3},{"g":"c","k":3.7,"l":-21.2},{"g":"c","k":3.9,"l":-23}
],
"t5":[
{"g":"a","k":4.34,"l":-4.4},{"g":"a","k":4.34,"l":-10.5},{"g":"b","k":6.88,"l":-10.0},{"g":"b","k":6.88,"l":-12.2}
],
"c6":[
{"g":"e","k":0,"l":7.7},{"g":"e","k":0.16,"l":6.6},{"g":"e","k":0.33,"l":4.7},{"g":"e","k":0.58,"l":3.2},{"g":"e","k":0.79,"l":2.9},{"g":"e","k":1.29,"l":3.7},{"g":"e","k":2.01,"l":4.9},{"g":"e","k":2.15,"l":6.7},{"g":"e","k":2.34,"l":7.8},{"g":"e","k":2.55,"l":7.8},{"g":"e","k":2.76,"l":7.1},{"g":"e","k":2.89,"l":5.4},{"g":"e","k":3.06,"l":4.0},{"g":"e","k":3.39,"l":3.0},{"g":"e","k":3.82,"l":2.3},{"g":"e","k":4.11,"l":3.7},{"g":"e","k":4.4,"l":3.9},{"g":"e","k":4.53,"l":5.4},{"g":"e","k":4.7,"l":7.2},{"g":"e","k":4.95,"l":4.7},{"g":"e","k":5.16,"l":2.0},{"g":"e","k":5.24,"l":-0.7},{"g":"e","k":5.2,"l":-3.8},{"g":"e","k":5.08,"l":-7.5},{"g":"e","k":4.91,"l":-11.6},{"g":"e","k":4.7,"l":-14.9},{"g":"e","k":4.49,"l":-15.8},{"g":"e","k":4.34,"l":-14.6},{"g":"e","k":4.3,"l":-10.9},{"g":"e","k":4.28,"l":-6.8},{"g":"e","k":4.24,"l":-4.1},{"g":"e","k":4.07,"l":-2.8},{"g":"e","k":3.9,"l":-2.4},{"g":"e","k":3.69,"l":-3.4},{"g":"e","k":3.52,"l":-3.3},{"g":"e","k":3.35,"l":-3.1},{"g":"e","k":3.31,"l":-3.8},{"g":"e","k":3.35,"l":-5.8},{"g":"e","k":3.14,"l":-6.8},{"g":"e","k":2.85,"l":-8.2},{"g":"e","k":2.64,"l":-9.5},{"g":"e","k":2.51,"l":-12.2},{"g":"e","k":2.34,"l":-12.0},{"g":"e","k":2.22,"l":-10.5},{"g":"e","k":2.13,"l":-9.5},{"g":"e","k":1.71,"l":-8.5},{"g":"e","k":1.38,"l":-6.8},{"g":"e","k":1.25,"l":-5.1},{"g":"e","k":1.21,"l":-3.5},{"g":"e","k":0.79,"l":-3.4},{"g":"e","k":0.45,"l":-4.1},{"g":"e","k":0.29,"l":-5.8},{"g":"e","k":0.16,"l":-7.5},{"g":"e","k":0,"l":-8.5},
{"g":"c","k":1.13,"l":-0.7},{"g":"c","k":1.17,"l":1.6},{"g":"c","k":1.5,"l":2.5},{"g":"c","k":1.97,"l":3.0},{"g":"c","k":2.22,"l":4.0},{"g":"c","k":2.34,"l":6.6},{"g":"c","k":2.47,"l":7.3},{"g":"c","k":2.64,"l":6.6},{"g":"c","k":2.76,"l":4.4},{"g":"c","k":3.06,"l":3.0},{"g":"c","k":3.23,"l":1.6},{"g":"c","k":3.27,"l":-0.7},{"g":"c","k":3.19,"l":-2.7},{"g":"c","k":3.1,"l":-5.5},{"g":"c","k":2.85,"l":-7.5},{"g":"c","k":2.6,"l":-8.8},{"g":"c","k":2.34,"l":-9.2},{"g":"c","k":2.01,"l":-8.7},{"g":"c","k":1.63,"l":-7.1},{"g":"c","k":1.34,"l":-5.5},{"g":"c","k":1.21,"l":-3.4},{"g":"c","k":1.13,"l":-0.7},
{"g":"rb","k":1.76,"l":0.6},{"g":"rb","k":1.88,"l":2.2},{"g":"rb","k":2.18,"l":3.2},{"g":"rb","k":2.3,"l":5.4},{"g":"rb","k":2.45,"l":6.3},{"g":"rb","k":2.6,"l":5.7},{"g":"rb","k":2.7,"l":4.0},{"g":"rb","k":2.87,"l":1.3},{"g":"rb","k":2.91,"l":-1.4},{"g":"rb","k":2.85,"l":-4.4},{"g":"rb","k":2.68,"l":-7.3},{"g":"rb","k":2.47,"l":-8.5},{"g":"rb","k":2.2,"l":-8.1},{"g":"rb","k":1.97,"l":-6.6},{"g":"rb","k":1.84,"l":-4.1},{"g":"rb","k":1.76,"l":-1.4},{"g":"rb","k":1.76,"l":0.6},
{"g":"ra","k":2.36,"l":4.2},{"g":"ra","k":2.55,"l":3.2},{"g":"ra","k":2.68,"l":1.0},{"g":"ra","k":2.7,"l":-2},{"g":"ra","k":2.66,"l":-5.3},{"g":"ra","k":2.5,"l":-7.6},{"g":"ra","k":2.3,"l":-8.0},{"g":"ra","k":2.1,"l":-7.0},{"g":"ra","k":1.95,"l":-4},{"g":"ra","k":1.95,"l":-0.5},{"g":"ra","k":2.1,"l":2.2},{"g":"ra","k":2.36,"l":4.2},
{"g":"li","k":4.7,"l":3.0},{"g":"li","k":4.89,"l":0.6},{"g":"li","k":4.91,"l":-2.8},{"g":"li","k":4.82,"l":-6.8},{"g":"li","k":4.7,"l":-10.2},{"g":"li","k":4.53,"l":-11.9},{"g":"li","k":4.36,"l":-11.2},{"g":"li","k":4.32,"l":-7.5},{"g":"li","k":4.3,"l":-3.1},{"g":"li","k":4.3,"l":0.6},{"g":"li","k":4.49,"l":2.3},{"g":"li","k":4.7,"l":3.0},
{"g":"fr","k":6.91,"l":-1.2},{"g":"fr","k":7.04,"l":-2.5},{"g":"fr","k":7.08,"l":-4.5},{"g":"fr","k":7.02,"l":-7},{"g":"fr","k":6.9,"l":-8.9},{"g":"fr","k":6.86,"l":-9.4},{"g":"fr","k":6.8,"l":-8.5},{"g":"fr","k":6.74,"l":-6.5},{"g":"fr","k":6.71,"l":-4.5},{"g":"fr","k":6.76,"l":-2.5},{"g":"fr","k":6.91,"l":-1.2},
{"g":"me","k":0.12,"l":0.1},{"g":"me","k":0.3,"l":0.8},{"g":"me","k":0.5,"l":1.1},{"g":"me","k":0.6,"l":0.9},{"g":"me","k":0.45,"l":0.3},{"g":"me","k":0.25,"l":0.0},{"g":"me","k":0.12,"l":0.1},
{"g":"u1","k":0,"l":5.4},{"g":"u1","k":0.13,"l":4.0},{"g":"u1","k":0,"l":2.0},
{"g":"d1","k":0,"l":-1.4},{"g":"d1","k":0.13,"l":-3.0},{"g":"d1","k":0,"l":-4.8}
],
"b6":[
{"g":"b","l":3.3,"k1":2.3,"k2":2.38},{"g":"b","l":2.0,"k1":2.15,"k2":2.55},{"g":"b","l":0.5,"k1":2.02,"k2":2.62},{"g":"b","l":-2,"k1":1.98,"k2":2.62},{"g":"b","l":-4,"k1":2.0,"k2":2.6},{"g":"b","l":-6,"k1":2.05,"k2":2.5},{"g":"b","l":-7.0,"k1":2.15,"k2":2.42},{"g":"b","l":-7.4,"k1":2.3,"k2":2.36}
],
"d6":[
{"g":"c","k":3.5,"l":23},{"g":"c","k":3.25,"l":19.5},{"g":"c","k":3.0,"l":16.3},{"g":"c","k":2.8,"l":13.6},{"g":"c","k":2.68,"l":12.1},{"g":"c","k":2.55,"l":9.5},{"g":"c","k":2.47,"l":7.7},{"g":"c","k":2.35,"l":4.5},{"g":"c","k":2.3,"l":2.0},{"g":"c","k":2.25,"l":0},{"g":"c","k":2.3,"l":-2.0},{"g":"c","k":2.4,"l":-5.5},{"g":"c","k":2.48,"l":-8.0},{"g":"c","k":2.55,"l":-9.8},{"g":"c","k":2.7,"l":-12.5},{"g":"c","k":2.9,"l":-15.3},{"g":"c","k":3.1,"l":-18.3},{"g":"c","k":3.3,"l":-20.8},{"g":"c","k":3.47,"l":-23}
],
"t6":[
{"g":"a","k":4.3,"l":-4.1},{"g":"a","k":4.3,"l":-10.2}
],
"ax":[{"k":0,"l":0},{"k":11.6,"l":0}]
},
"columns":3,
"spacing":{"row":16,"column":11},
"concat":[
{"width":457,"height":453,"title":{"text":"Mode=\u00a0\u00a01"},
 "layer":[
  {"data":{"name":"c1"},"mark":{"type":"line","color":"black","strokeWidth":2.4,"strokeJoin":"round","strokeCap":"round"},
   "encoding":{"x":{"field":"k","type":"quantitative","scale":{"domain":[0,11.6],"nice":false,"zero":false},"axis":{"orient":"bottom","values":[0,5,10],"tickSize":-10,"labelPadding":39,"labelBaseline":"alphabetic","title":"k(×10⁻⁶cpm)","titleY":54,"titleBaseline":"alphabetic"}},
    "y":{"field":"l","type":"quantitative","scale":{"domain":[-23,23],"nice":false,"zero":false},"axis":{"orient":"left","values":[-20,-10,0,10,20],"tickSize":-10,"labelPadding":21,"title":"l(×10⁻⁶cpm)","titleX":-57,"titleBaseline":"alphabetic"}},
    "detail":{"field":"g"},"order":{"value":null}}},
  {"data":{"name":"b1"},"mark":{"type":"area","orient":"horizontal","color":"black"},
   "encoding":{"y":{"field":"l","type":"quantitative","axis":{"orient":"left","values":[-22,-18,-16,-14,-12,-8,-6,-4,-2,2,4,6,8,12,14,16,18,22],"tickSize":-5,"labels":false,"domain":false,"title":null}},
    "x":{"field":"k1","type":"quantitative","axis":{"orient":"bottom","values":[1,2,3,4,6,7,8,9,11],"tickSize":-5,"labels":false,"domain":false,"title":null}},
    "x2":{"field":"k2"},"detail":{"field":"g"}}},
  {"data":{"name":"d1"},"mark":{"type":"line","color":"black","strokeWidth":2.7},
   "encoding":{"x":{"field":"k","type":"quantitative","axis":{"orient":"top","values":[0,5,10],"tickSize":-10,"labels":false,"title":null}},
    "y":{"field":"l","type":"quantitative","axis":{"orient":"right","values":[-20,-10,0,10,20],"tickSize":-10,"labels":false,"title":null}},
    "detail":{"field":"g"},"order":{"value":null}}},
  {"data":{"name":"ax"},"mark":{"type":"point","opacity":0},
   "encoding":{"x":{"field":"k","type":"quantitative","axis":{"orient":"top","values":[1,2,3,4,6,7,8,9,11],"tickSize":-5,"labels":false,"domain":false,"title":null}},
    "y":{"field":"l","type":"quantitative","axis":{"orient":"right","values":[-22,-18,-16,-14,-12,-8,-6,-4,-2,2,4,6,8,12,14,16,18,22],"tickSize":-5,"labels":false,"domain":false,"title":null}}}},
  {"data":{"name":"ax"},"mark":{"type":"point","opacity":0},
   "encoding":{"x":{"field":"k","type":"quantitative","axis":{"orient":"bottom","offset":77,"values":[0,2.32,4.64,6.96,9.28,11.6],"labelExpr":"format(datum.value/2.32,'.0f')","tickSize":-12,"labelPadding":42,"labelBaseline":"alphabetic","title":"Frequency/f₀","titleY":52,"titleBaseline":"alphabetic"}},"y":{"field":"l","type":"quantitative","axis":null}}},
  {"data":{"name":"ax"},"mark":{"type":"point","opacity":0},
   "encoding":{"x":{"field":"k","type":"quantitative","axis":{"orient":"bottom","offset":77,"values":[0.464,0.928,1.392,1.856,2.784,3.248,3.712,4.176,5.104,5.568,6.032,6.496,7.424,7.888,8.352,8.816,9.744,10.208,10.672,11.136],"tickSize":-6,"labels":false,"domain":false,"title":null}},"y":{"field":"l","type":"quantitative","axis":null}}},
  {"data":{"values":[{"g":"s","k":6.33,"l":-16.6},{"g":"s","k":4.77,"l":-5.0},{"g":"w","k":4.74,"l":-8.57},{"g":"w","k":4.77,"l":-5.0},{"g":"w","k":5.52,"l":-6.84}]},
   "mark":{"type":"line","color":"#f0341c","strokeWidth":6,"strokeCap":"round","strokeJoin":"round"},
   "encoding":{"x":{"field":"k","type":"quantitative","axis":null},"y":{"field":"l","type":"quantitative","axis":null},"detail":{"field":"g"},"order":{"value":null}}},
  {"data":{"values":[{"k":4.6,"l":-19.6,"t":"ω≒2f内部波"}]},
   "mark":{"type":"text","align":"left","baseline":"middle","font":"Noto Sans CJK JP","fontSize":49,"color":"#f0341c"},
   "encoding":{"x":{"field":"k","type":"quantitative","axis":null},"y":{"field":"l","type":"quantitative","axis":null},"text":{"field":"t"}}}
 ],
 "resolve":{"axis":{"x":"independent","y":"independent"}}},
{"width":457,"height":453,"title":{"text":"Mode=\u00a0\u00a02"},
 "layer":[
  {"data":{"name":"c2"},"mark":{"type":"line","color":"black","strokeWidth":2.4,"strokeJoin":"round","strokeCap":"round"},
   "encoding":{"x":{"field":"k","type":"quantitative","scale":{"domain":[0,11.6],"nice":false,"zero":false},"axis":{"orient":"bottom","values":[0,5,10],"tickSize":-10,"labelPadding":39,"labelBaseline":"alphabetic","title":"k(×10⁻⁶cpm)","titleY":54,"titleBaseline":"alphabetic"}},
    "y":{"field":"l","type":"quantitative","scale":{"domain":[-23,23],"nice":false,"zero":false},"axis":{"orient":"left","values":[-20,-10,0,10,20],"tickSize":-10,"labelPadding":21,"title":"l(×10⁻⁶cpm)","titleX":-57,"titleBaseline":"alphabetic"}},
    "detail":{"field":"g"},"order":{"value":null}}},
  {"data":{"name":"b2"},"mark":{"type":"area","orient":"horizontal","color":"black"},
   "encoding":{"y":{"field":"l","type":"quantitative","axis":{"orient":"left","values":[-22,-18,-16,-14,-12,-8,-6,-4,-2,2,4,6,8,12,14,16,18,22],"tickSize":-5,"labels":false,"domain":false,"title":null}},
    "x":{"field":"k1","type":"quantitative","axis":{"orient":"bottom","values":[1,2,3,4,6,7,8,9,11],"tickSize":-5,"labels":false,"domain":false,"title":null}},
    "x2":{"field":"k2"},"detail":{"field":"g"}}},
  {"data":{"name":"d2"},"mark":{"type":"line","color":"black","strokeWidth":2.7},
   "encoding":{"x":{"field":"k","type":"quantitative","axis":{"orient":"top","values":[0,5,10],"tickSize":-10,"labels":false,"title":null}},
    "y":{"field":"l","type":"quantitative","axis":{"orient":"right","values":[-20,-10,0,10,20],"tickSize":-10,"labels":false,"title":null}},
    "detail":{"field":"g"},"order":{"value":null}}},
  {"data":{"name":"ax"},"mark":{"type":"point","opacity":0},
   "encoding":{"x":{"field":"k","type":"quantitative","axis":{"orient":"top","values":[1,2,3,4,6,7,8,9,11],"tickSize":-5,"labels":false,"domain":false,"title":null}},
    "y":{"field":"l","type":"quantitative","axis":{"orient":"right","values":[-22,-18,-16,-14,-12,-8,-6,-4,-2,2,4,6,8,12,14,16,18,22],"tickSize":-5,"labels":false,"domain":false,"title":null}}}},
  {"data":{"name":"ax"},"mark":{"type":"point","opacity":0},
   "encoding":{"x":{"field":"k","type":"quantitative","axis":{"orient":"bottom","offset":77,"values":[0,2.32,4.64,6.96,9.28,11.6],"labelExpr":"format(datum.value/2.32,'.0f')","tickSize":-12,"labelPadding":42,"labelBaseline":"alphabetic","title":"Frequency/f₀","titleY":52,"titleBaseline":"alphabetic"}},"y":{"field":"l","type":"quantitative","axis":null}}},
  {"data":{"name":"ax"},"mark":{"type":"point","opacity":0},
   "encoding":{"x":{"field":"k","type":"quantitative","axis":{"orient":"bottom","offset":77,"values":[0.464,0.928,1.392,1.856,2.784,3.248,3.712,4.176,5.104,5.568,6.032,6.496,7.424,7.888,8.352,8.816,9.744,10.208,10.672,11.136],"tickSize":-6,"labels":false,"domain":false,"title":null}},"y":{"field":"l","type":"quantitative","axis":null}}},
  {"data":{"values":[{"g":"s","k":3.86,"l":-17.2},{"g":"s","k":2.34,"l":-4.8},{"g":"w","k":2.29,"l":-8.37},{"g":"w","k":2.34,"l":-4.8},{"g":"w","k":3.08,"l":-6.74}]},
   "mark":{"type":"line","color":"#3d4af0","strokeWidth":6,"strokeCap":"round","strokeJoin":"round"},
   "encoding":{"x":{"field":"k","type":"quantitative","axis":null},"y":{"field":"l","type":"quantitative","axis":null},"detail":{"field":"g"},"order":{"value":null}}},
  {"data":{"values":[{"k":1.02,"l":-19.9,"t":"ω≒f内部波"}]},
   "mark":{"type":"text","align":"left","baseline":"middle","font":"Noto Sans CJK JP","fontSize":49,"color":"#3d4af0"},
   "encoding":{"x":{"field":"k","type":"quantitative","axis":null},"y":{"field":"l","type":"quantitative","axis":null},"text":{"field":"t"}}}
 ],
 "resolve":{"axis":{"x":"independent","y":"independent"}}},
{"width":457,"height":453,"title":{"text":"Mode=\u00a0\u00a03"},
 "layer":[
  {"data":{"name":"c3"},"mark":{"type":"line","color":"black","strokeWidth":2.4,"strokeJoin":"round","strokeCap":"round"},
   "encoding":{"x":{"field":"k","type":"quantitative","scale":{"domain":[0,11.6],"nice":false,"zero":false},"axis":{"orient":"bottom","values":[0,5,10],"tickSize":-10,"labelPadding":39,"labelBaseline":"alphabetic","title":"k(×10⁻⁶cpm)","titleY":54,"titleBaseline":"alphabetic"}},
    "y":{"field":"l","type":"quantitative","scale":{"domain":[-23,23],"nice":false,"zero":false},"axis":{"orient":"left","values":[-20,-10,0,10,20],"tickSize":-10,"labelPadding":21,"title":"l(×10⁻⁶cpm)","titleX":-57,"titleBaseline":"alphabetic"}},
    "detail":{"field":"g"},"order":{"value":null}}},
  {"data":{"name":"b3"},"mark":{"type":"area","orient":"horizontal","color":"black"},
   "encoding":{"y":{"field":"l","type":"quantitative","axis":{"orient":"left","values":[-22,-18,-16,-14,-12,-8,-6,-4,-2,2,4,6,8,12,14,16,18,22],"tickSize":-5,"labels":false,"domain":false,"title":null}},
    "x":{"field":"k1","type":"quantitative","axis":{"orient":"bottom","values":[1,2,3,4,6,7,8,9,11],"tickSize":-5,"labels":false,"domain":false,"title":null}},
    "x2":{"field":"k2"},"detail":{"field":"g"}}},
  {"data":{"name":"d3"},"mark":{"type":"line","color":"black","strokeWidth":2.7},
   "encoding":{"x":{"field":"k","type":"quantitative","axis":{"orient":"top","values":[0,5,10],"tickSize":-10,"labels":false,"title":null}},
    "y":{"field":"l","type":"quantitative","axis":{"orient":"right","values":[-20,-10,0,10,20],"tickSize":-10,"labels":false,"title":null}},
    "detail":{"field":"g"},"order":{"value":null}}},
  {"data":{"name":"t3"},"mark":{"type":"line","color":"black","strokeWidth":4,"strokeCap":"round"},
   "encoding":{"x":{"field":"k","type":"quantitative","axis":{"orient":"top","values":[1,2,3,4,6,7,8,9,11],"tickSize":-5,"labels":false,"domain":false,"title":null}},
    "y":{"field":"l","type":"quantitative","axis":{"orient":"right","values":[-22,-18,-16,-14,-12,-8,-6,-4,-2,2,4,6,8,12,14,16,18,22],"tickSize":-5,"labels":false,"domain":false,"title":null}},
    "detail":{"field":"g"},"order":{"value":null}}},
  {"data":{"name":"ax"},"mark":{"type":"point","opacity":0},
   "encoding":{"x":{"field":"k","type":"quantitative","axis":{"orient":"bottom","offset":77,"values":[0,2.32,4.64,6.96,9.28,11.6],"labelExpr":"format(datum.value/2.32,'.0f')","tickSize":-12,"labelPadding":42,"labelBaseline":"alphabetic","title":"Frequency/f₀","titleY":52,"titleBaseline":"alphabetic"}},"y":{"field":"l","type":"quantitative","axis":null}}},
  {"data":{"name":"ax"},"mark":{"type":"point","opacity":0},
   "encoding":{"x":{"field":"k","type":"quantitative","axis":{"orient":"bottom","offset":77,"values":[0.464,0.928,1.392,1.856,2.784,3.248,3.712,4.176,5.104,5.568,6.032,6.496,7.424,7.888,8.352,8.816,9.744,10.208,10.672,11.136],"tickSize":-6,"labels":false,"domain":false,"title":null}},"y":{"field":"l","type":"quantitative","axis":null}}}
 ],
 "resolve":{"axis":{"x":"independent","y":"independent"}}},
{"width":457,"height":453,"title":{"text":"Mode=\u00a0\u00a04"},
 "layer":[
  {"data":{"name":"c4"},"mark":{"type":"line","color":"black","strokeWidth":2.4,"strokeJoin":"round","strokeCap":"round"},
   "encoding":{"x":{"field":"k","type":"quantitative","scale":{"domain":[0,11.6],"nice":false,"zero":false},"axis":{"orient":"bottom","values":[0,5,10],"tickSize":-10,"labelPadding":39,"labelBaseline":"alphabetic","title":"k(×10⁻⁶cpm)","titleY":54,"titleBaseline":"alphabetic"}},
    "y":{"field":"l","type":"quantitative","scale":{"domain":[-23,23],"nice":false,"zero":false},"axis":{"orient":"left","values":[-20,-10,0,10,20],"tickSize":-10,"labelPadding":21,"title":"l(×10⁻⁶cpm)","titleX":-57,"titleBaseline":"alphabetic"}},
    "detail":{"field":"g"},"order":{"value":null}}},
  {"data":{"name":"b4"},"mark":{"type":"area","orient":"horizontal","color":"black"},
   "encoding":{"y":{"field":"l","type":"quantitative","axis":{"orient":"left","values":[-22,-18,-16,-14,-12,-8,-6,-4,-2,2,4,6,8,12,14,16,18,22],"tickSize":-5,"labels":false,"domain":false,"title":null}},
    "x":{"field":"k1","type":"quantitative","axis":{"orient":"bottom","values":[1,2,3,4,6,7,8,9,11],"tickSize":-5,"labels":false,"domain":false,"title":null}},
    "x2":{"field":"k2"},"detail":{"field":"g"}}},
  {"data":{"name":"d4"},"mark":{"type":"line","color":"black","strokeWidth":2.7},
   "encoding":{"x":{"field":"k","type":"quantitative","axis":{"orient":"top","values":[0,5,10],"tickSize":-10,"labels":false,"title":null}},
    "y":{"field":"l","type":"quantitative","axis":{"orient":"right","values":[-20,-10,0,10,20],"tickSize":-10,"labels":false,"title":null}},
    "detail":{"field":"g"},"order":{"value":null}}},
  {"data":{"name":"t4"},"mark":{"type":"line","color":"black","strokeWidth":4,"strokeCap":"round"},
   "encoding":{"x":{"field":"k","type":"quantitative","axis":{"orient":"top","values":[1,2,3,4,6,7,8,9,11],"tickSize":-5,"labels":false,"domain":false,"title":null}},
    "y":{"field":"l","type":"quantitative","axis":{"orient":"right","values":[-22,-18,-16,-14,-12,-8,-6,-4,-2,2,4,6,8,12,14,16,18,22],"tickSize":-5,"labels":false,"domain":false,"title":null}},
    "detail":{"field":"g"},"order":{"value":null}}},
  {"data":{"name":"ax"},"mark":{"type":"point","opacity":0},
   "encoding":{"x":{"field":"k","type":"quantitative","axis":{"orient":"bottom","offset":77,"values":[0,2.32,4.64,6.96,9.28,11.6],"labelExpr":"format(datum.value/2.32,'.0f')","tickSize":-12,"labelPadding":42,"labelBaseline":"alphabetic","title":"Frequency/f₀","titleY":52,"titleBaseline":"alphabetic"}},"y":{"field":"l","type":"quantitative","axis":null}}},
  {"data":{"name":"ax"},"mark":{"type":"point","opacity":0},
   "encoding":{"x":{"field":"k","type":"quantitative","axis":{"orient":"bottom","offset":77,"values":[0.464,0.928,1.392,1.856,2.784,3.248,3.712,4.176,5.104,5.568,6.032,6.496,7.424,7.888,8.352,8.816,9.744,10.208,10.672,11.136],"tickSize":-6,"labels":false,"domain":false,"title":null}},"y":{"field":"l","type":"quantitative","axis":null}}}
 ],
 "resolve":{"axis":{"x":"independent","y":"independent"}}},
{"width":457,"height":453,"title":{"text":"Mode=\u00a0\u00a05"},
 "layer":[
  {"data":{"name":"c5"},"mark":{"type":"line","color":"black","strokeWidth":2.4,"strokeJoin":"round","strokeCap":"round"},
   "encoding":{"x":{"field":"k","type":"quantitative","scale":{"domain":[0,11.6],"nice":false,"zero":false},"axis":{"orient":"bottom","values":[0,5,10],"tickSize":-10,"labelPadding":39,"labelBaseline":"alphabetic","title":"k(×10⁻⁶cpm)","titleY":54,"titleBaseline":"alphabetic"}},
    "y":{"field":"l","type":"quantitative","scale":{"domain":[-23,23],"nice":false,"zero":false},"axis":{"orient":"left","values":[-20,-10,0,10,20],"tickSize":-10,"labelPadding":21,"title":"l(×10⁻⁶cpm)","titleX":-57,"titleBaseline":"alphabetic"}},
    "detail":{"field":"g"},"order":{"value":null}}},
  {"data":{"name":"b5"},"mark":{"type":"area","orient":"horizontal","color":"black"},
   "encoding":{"y":{"field":"l","type":"quantitative","axis":{"orient":"left","values":[-22,-18,-16,-14,-12,-8,-6,-4,-2,2,4,6,8,12,14,16,18,22],"tickSize":-5,"labels":false,"domain":false,"title":null}},
    "x":{"field":"k1","type":"quantitative","axis":{"orient":"bottom","values":[1,2,3,4,6,7,8,9,11],"tickSize":-5,"labels":false,"domain":false,"title":null}},
    "x2":{"field":"k2"},"detail":{"field":"g"}}},
  {"data":{"name":"d5"},"mark":{"type":"line","color":"black","strokeWidth":2.7},
   "encoding":{"x":{"field":"k","type":"quantitative","axis":{"orient":"top","values":[0,5,10],"tickSize":-10,"labels":false,"title":null}},
    "y":{"field":"l","type":"quantitative","axis":{"orient":"right","values":[-20,-10,0,10,20],"tickSize":-10,"labels":false,"title":null}},
    "detail":{"field":"g"},"order":{"value":null}}},
  {"data":{"name":"t5"},"mark":{"type":"line","color":"black","strokeWidth":4,"strokeCap":"round"},
   "encoding":{"x":{"field":"k","type":"quantitative","axis":{"orient":"top","values":[1,2,3,4,6,7,8,9,11],"tickSize":-5,"labels":false,"domain":false,"title":null}},
    "y":{"field":"l","type":"quantitative","axis":{"orient":"right","values":[-22,-18,-16,-14,-12,-8,-6,-4,-2,2,4,6,8,12,14,16,18,22],"tickSize":-5,"labels":false,"domain":false,"title":null}},
    "detail":{"field":"g"},"order":{"value":null}}},
  {"data":{"name":"ax"},"mark":{"type":"point","opacity":0},
   "encoding":{"x":{"field":"k","type":"quantitative","axis":{"orient":"bottom","offset":77,"values":[0,2.32,4.64,6.96,9.28,11.6],"labelExpr":"format(datum.value/2.32,'.0f')","tickSize":-12,"labelPadding":42,"labelBaseline":"alphabetic","title":"Frequency/f₀","titleY":52,"titleBaseline":"alphabetic"}},"y":{"field":"l","type":"quantitative","axis":null}}},
  {"data":{"name":"ax"},"mark":{"type":"point","opacity":0},
   "encoding":{"x":{"field":"k","type":"quantitative","axis":{"orient":"bottom","offset":77,"values":[0.464,0.928,1.392,1.856,2.784,3.248,3.712,4.176,5.104,5.568,6.032,6.496,7.424,7.888,8.352,8.816,9.744,10.208,10.672,11.136],"tickSize":-6,"labels":false,"domain":false,"title":null}},"y":{"field":"l","type":"quantitative","axis":null}}}
 ],
 "resolve":{"axis":{"x":"independent","y":"independent"}}},
{"width":457,"height":453,"title":{"text":"Mode=\u00a0\u00a06"},
 "layer":[
  {"data":{"name":"c6"},"mark":{"type":"line","color":"black","strokeWidth":2.4,"strokeJoin":"round","strokeCap":"round"},
   "encoding":{"x":{"field":"k","type":"quantitative","scale":{"domain":[0,11.6],"nice":false,"zero":false},"axis":{"orient":"bottom","values":[0,5,10],"tickSize":-10,"labelPadding":39,"labelBaseline":"alphabetic","title":"k(×10⁻⁶cpm)","titleY":54,"titleBaseline":"alphabetic"}},
    "y":{"field":"l","type":"quantitative","scale":{"domain":[-23,23],"nice":false,"zero":false},"axis":{"orient":"left","values":[-20,-10,0,10,20],"tickSize":-10,"labelPadding":21,"title":"l(×10⁻⁶cpm)","titleX":-57,"titleBaseline":"alphabetic"}},
    "detail":{"field":"g"},"order":{"value":null}}},
  {"data":{"name":"b6"},"mark":{"type":"area","orient":"horizontal","color":"black"},
   "encoding":{"y":{"field":"l","type":"quantitative","axis":{"orient":"left","values":[-22,-18,-16,-14,-12,-8,-6,-4,-2,2,4,6,8,12,14,16,18,22],"tickSize":-5,"labels":false,"domain":false,"title":null}},
    "x":{"field":"k1","type":"quantitative","axis":{"orient":"bottom","values":[1,2,3,4,6,7,8,9,11],"tickSize":-5,"labels":false,"domain":false,"title":null}},
    "x2":{"field":"k2"},"detail":{"field":"g"}}},
  {"data":{"name":"d6"},"mark":{"type":"line","color":"black","strokeWidth":2.7},
   "encoding":{"x":{"field":"k","type":"quantitative","axis":{"orient":"top","values":[0,5,10],"tickSize":-10,"labels":false,"title":null}},
    "y":{"field":"l","type":"quantitative","axis":{"orient":"right","values":[-20,-10,0,10,20],"tickSize":-10,"labels":false,"title":null}},
    "detail":{"field":"g"},"order":{"value":null}}},
  {"data":{"name":"t6"},"mark":{"type":"line","color":"black","strokeWidth":4,"strokeCap":"round"},
   "encoding":{"x":{"field":"k","type":"quantitative","axis":{"orient":"top","values":[1,2,3,4,6,7,8,9,11],"tickSize":-5,"labels":false,"domain":false,"title":null}},
    "y":{"field":"l","type":"quantitative","axis":{"orient":"right","values":[-22,-18,-16,-14,-12,-8,-6,-4,-2,2,4,6,8,12,14,16,18,22],"tickSize":-5,"labels":false,"domain":false,"title":null}},
    "detail":{"field":"g"},"order":{"value":null}}},
  {"data":{"name":"ax"},"mark":{"type":"point","opacity":0},
   "encoding":{"x":{"field":"k","type":"quantitative","axis":{"orient":"bottom","offset":77,"values":[0,2.32,4.64,6.96,9.28,11.6],"tickSize":-12,"labels":false,"title":null}},"y":{"field":"l","type":"quantitative","axis":null}}},
  {"data":{"name":"ax"},"mark":{"type":"point","opacity":0},
   "encoding":{"x":{"field":"k","type":"quantitative","axis":{"orient":"bottom","offset":77,"values":[0.464,0.928,1.392,1.856,2.784,3.248,3.712,4.176,5.104,5.568,6.032,6.496,7.424,7.888,8.352,8.816,9.744,10.208,10.672,11.136],"tickSize":-6,"labels":false,"domain":false,"title":null}},"y":{"field":"l","type":"quantitative","axis":null}}},
  {"data":{"values":[{"k":0,"k2":12.15,"l":-31.9,"l2":-37.0}]},
   "mark":{"type":"rect","color":"#d9d9d9","stroke":"#b8b8b8","strokeWidth":1.5},
   "encoding":{"x":{"field":"k","type":"quantitative","axis":null},"x2":{"field":"k2"},"y":{"field":"l","type":"quantitative","axis":null},"y2":{"field":"l2"}}},
  {"data":{"values":[{"k":0.48,"l":-36.1,"t":"Niwa and Hibiya (1997)"}]},
   "mark":{"type":"text","align":"left","baseline":"alphabetic","font":"Liberation Sans","fontSize":46,"color":"#1e1e1e","limit":458,"ellipsis":"\u200b"},
   "encoding":{"x":{"field":"k","type":"quantitative","axis":null},"y":{"field":"l","type":"quantitative","axis":null},"text":{"field":"t"}}}
 ],
 "resolve":{"axis":{"x":"independent","y":"independent"}}}
]
}
